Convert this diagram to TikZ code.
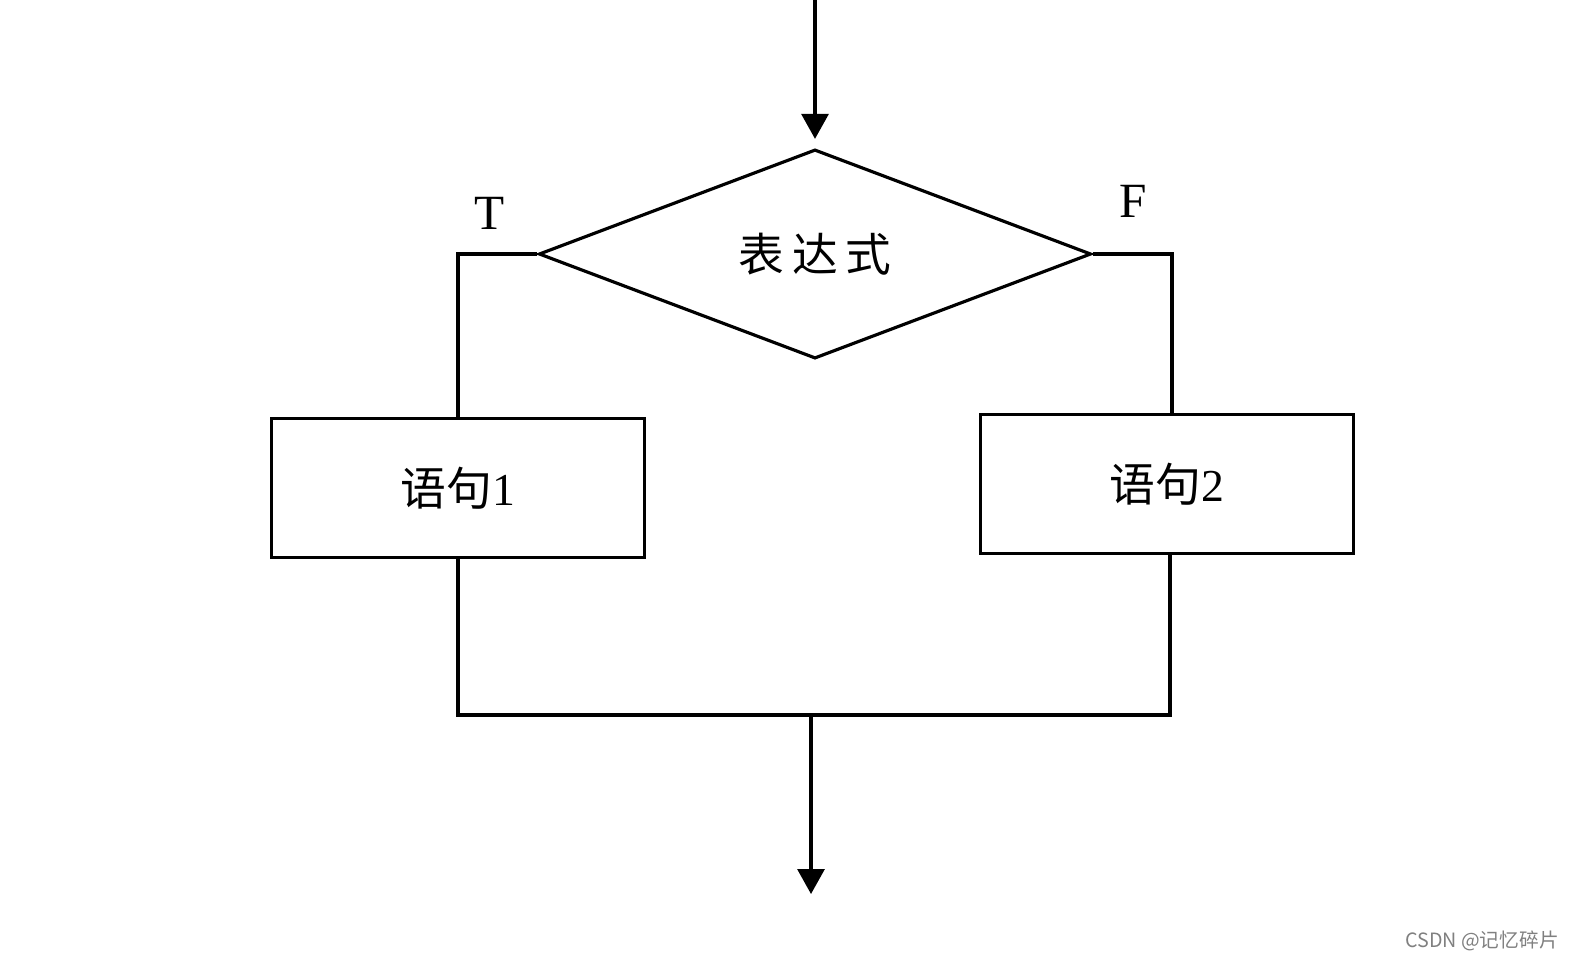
\documentclass[tikz,border=0pt]{standalone}
\usepackage{fontspec}
\setmainfont{Liberation Serif}
\newfontfamily\cjk{Noto Sans CJK SC}
\usetikzlibrary{arrows.meta,shapes.geometric}

\begin{document}
\begin{tikzpicture}[
    x=0.01cm, y=-0.01cm,
    font=\fontsize{13pt}{15pt}\selectfont,
    line width=0.9pt,
    decision/.style={
        draw,
        diamond,
        inner sep=0pt,
        minimum width=5.52cm,
        minimum height=2.09cm
    },
    stmt/.style={
        draw,
        rectangle,
        inner sep=0pt,
        minimum width=3.72cm,
        minimum height=1.39cm
    },
    branch/.style={
        inner sep=0pt,
        font=\fontsize{14pt}{16pt}\selectfont
    },
    flow/.style={
        -{Triangle[length=2.5mm,width=2.7mm]}
    }
]
\useasboundingbox (0,0) rectangle (1576,963);

% Decision and the two statements
\node[decision] (expr) at (815,254) {\cjk 表\,达\,式};

\node[stmt] (stmtA) at (458,488) {{\cjk 语句}1};
\node[stmt] (stmtB) at (1167,484) {{\cjk 语句}2};

\node[branch] (T) at (490,213) {T};
\node[branch] (F) at (1133,201) {F};

% Free ends of the in and out arrows
\coordinate (entry) at (815,0);
\coordinate (join) at (811,715);
\coordinate (exit) at (811,894);

% Connectors
\draw[flow, shorten >=0.9mm] (entry) -- (expr.north);

\draw (expr.west) -| (stmtA.north);
\draw (expr.east) -| ([xshift=0.05cm]stmtB.north);

\draw (stmtA.south) |- (join) -| ([xshift=0.03cm]stmtB.south);
\draw[flow] (join) -- (exit);

\node[text=gray, font=\cjk\fontsize{5.6pt}{7pt}\selectfont] (mark) at (1482,941) {CSDN @记忆碎片};

\end{tikzpicture}
\end{document}
